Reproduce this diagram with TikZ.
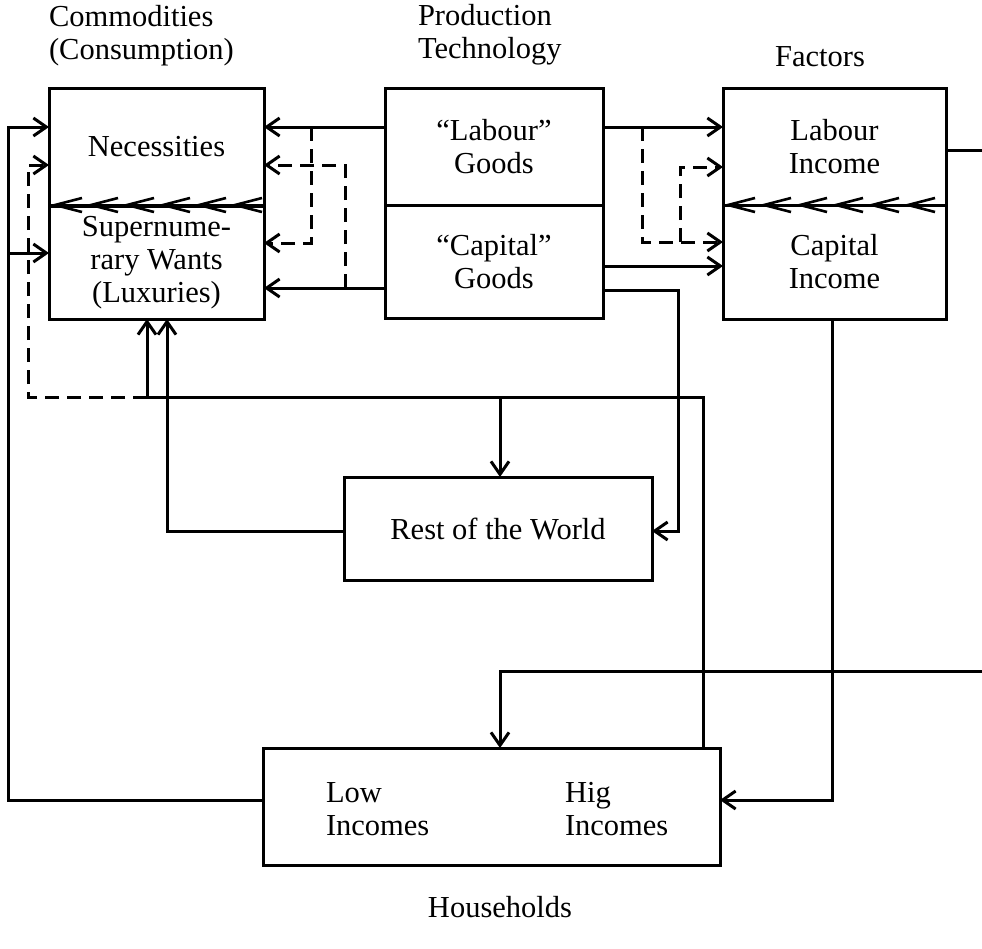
\documentclass[tikz,border=0pt]{standalone}
\usepackage{fontspec}
\setmainfont{Liberation Serif}
\usetikzlibrary{arrows.meta}
\newcommand\diagfont{\fontsize{30.5}{33}\selectfont}
\begin{document}
\begin{tikzpicture}[x=1pt,y=-1pt,line width=3pt,
  box/.style={draw,rectangle,outer sep=0pt,inner sep=0pt,align=center,font=\diagfont},
  txt/.style={inner sep=0pt,outer sep=0pt,align=left,font=\diagfont},
  ar/.style={-{Straight Barb[length=13pt,width=18pt]}},
  dsh/.style={dash pattern=on 14pt off 8pt},
  chev/.style={line width=2.6pt}]
\useasboundingbox (0,0) rectangle (982,948);
% boxes
\node[box,minimum width=215pt,minimum height=117pt] (nec) at (156.5,146.5) {Necessities};
\node[box,minimum width=215pt,minimum height=113pt] (lux) at (156.5,262.5) {Supernume-\\rary Wants\\(Luxuries)};
\node[box,minimum width=218pt,minimum height=117pt] (lab) at (494,146.5) {“Labour”\\Goods};
\node[box,minimum width=218pt,minimum height=113pt] (cap) at (494,261.5) {“Capital”\\Goods};
\node[box,minimum width=223pt,minimum height=117pt] (li) at (834.5,146.5) {Labour\\Income};
\node[box,minimum width=223pt,minimum height=114pt] (ci) at (834.5,262) {Capital\\Income};
\node[box,minimum width=308pt,minimum height=103pt] (row) at (498,528.5) {Rest of the World};
\node[box,minimum width=457pt,minimum height=117pt] (hh) at (491.5,806.5) {};
\node[txt,anchor=west] (low) at (326,809) {Low\\Incomes};
\node[txt,anchor=west] (high) at (565,809) {Hig\\Incomes};
% titles
\node[txt,anchor=west] (tcom) at (49,36) {Commodities\\(Consumption)};
\node[txt,anchor=west] (tprod) at (418,35) {Production\\Technology};
\node[txt] (tfac) at (820,57) {Factors};
\node[txt] (thh) at (500,907) {Households};
% chevrons on dividers
\foreach \t in {55,91,127,163,199,235}
  \draw[chev] (\t+27,198) -- (\t,205) -- (\t+27,212);
\foreach \t in {728,764,800,836,872,908}
  \draw[chev] (\t+27,198) -- (\t,205) -- (\t+27,212);
% helper coordinates
\coordinate (hA) at (0,127);
\coordinate (hB) at (0,165);
\coordinate (hC) at (0,243);
\coordinate (hD) at (0,288);
\coordinate (hE) at (0,266);
\coordinate (hF) at (0,290);
\coordinate (hG) at (0,167);
\coordinate (hH) at (0,242);
\coordinate (hL) at (0,253);
\coordinate (h397) at (0,397);
\coordinate (h532) at (0,531);
\coordinate (h800) at (0,800);
\coordinate (x8) at (8,0);
\coordinate (x28) at (28,0);
\coordinate (x147) at (147,0);
\coordinate (x167) at (167,0);
\coordinate (x500) at (500,0);
\coordinate (x703) at (703,0);
\coordinate (x832) at (832,0);
\coordinate (d1) at (311,127);
\coordinate (d2) at (345,288);
\coordinate (d3) at (642,127);
\coordinate (d4) at (680,242);
\coordinate (c678) at (678,531);
\coordinate (e1) at (982,150);
\coordinate (e2) at (982,671);
% production -> commodities
\draw[ar] (lab.west |- hA) -- (nec.east |- hA);
\draw[ar] (cap.west |- hD) -- (lux.east |- hD);
\draw[ar,dsh] (d1) |- (lux.east |- hC);
\draw[ar,dsh] (d2) |- (nec.east |- hB);
% production -> factors
\draw[ar] (lab.east |- hA) -- (li.west |- hA);
\draw[ar] (cap.east |- hE) -- (ci.west |- hE);
\draw[ar,dsh] (d3) |- (ci.west |- hH);
\draw[ar,dsh] (d4) |- (li.west |- hG);
% capital goods -> rest of the world
\draw[ar] (cap.east |- hF) -| (c678) -- (row.east |- c678);
% labour income out and back to households
\draw (li.east |- e1) -- (e1);
\draw[ar] (e2) -| (hh.north -| x500);
% capital income -> households
\draw[ar] (ci.south -| x832) |- (hh.east |- h800);
% households (high) -> luxuries and rest of world
\draw[ar] (hh.north -| x703) |- (x147 |- h397) -- (lux.south -| x147);
\draw[ar] (x500 |- h397) -- (row.north -| x500);
\draw[ar,dsh] (x147 |- h397) -- (x28 |- h397) |- (nec.west |- hB);
% rest of world -> luxuries
\draw[ar] (row.west |- h532) -| (lux.south -| x167);
% households (low) -> commodities
\draw[ar] (hh.west |- h800) -- (x8 |- h800) |- (nec.west |- hA);
\draw[ar] (x8 |- hL) -- (lux.west |- hL);
\end{tikzpicture}
\end{document}
